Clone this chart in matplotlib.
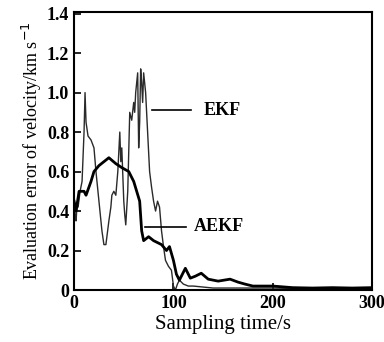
import numpy as np
import matplotlib.pyplot as plt

plt.rcParams['font.family'] = ['Liberation Serif', 'DejaVu Serif']

# EKF curve (thin, spiky)
t_ekf = [0, 1, 2, 3, 4, 6, 8, 10, 11, 12, 14, 17, 20, 22, 25, 28, 30, 32, 35, 37,
         38, 40, 42, 44, 46, 47, 48, 50, 51, 52, 54, 55, 56, 58, 60, 61, 62, 64, 65,
         66, 67, 68, 69, 70, 72, 74, 76, 78, 80, 82, 84, 86, 88, 90, 92, 95, 98,
         100, 102, 104, 106, 110, 115, 120, 130, 140, 160, 180, 200, 220, 240,
         260, 280, 300]
v_ekf = [0.45, 0.38, 0.35, 0.44, 0.42, 0.5, 0.55, 0.8, 1.0, 0.85, 0.78, 0.76, 0.72,
         0.6, 0.45, 0.3, 0.23, 0.23, 0.35, 0.42, 0.48, 0.5, 0.48, 0.6, 0.8, 0.65,
         0.72, 0.45, 0.38, 0.33, 0.5, 0.7, 0.9, 0.86, 0.95, 0.9, 1.0, 1.1, 0.72,
         0.85, 1.12, 1.05, 0.95, 1.1, 1.0, 0.8, 0.6, 0.52, 0.45, 0.4, 0.45, 0.42,
         0.3, 0.22, 0.15, 0.12, 0.1, 0.02, 0.0, 0.03, 0.05, 0.03, 0.02, 0.02,
         0.015, 0.01, 0.01, 0.01, 0.01, 0.008, 0.01, 0.008, 0.01, 0.01]

# AEKF curve (thick, smoother)
t_aekf = [0, 2, 5, 10, 12, 17, 20, 25, 30, 35, 42, 48, 55, 60, 63, 66, 68, 70, 75,
          80, 88, 93, 96, 100, 103, 106, 110, 112, 117, 122, 128, 135, 145, 157,
          165, 172, 180, 190, 200, 220, 240, 260, 280, 300]
v_aekf = [0.45, 0.4, 0.5, 0.5, 0.48, 0.55, 0.6, 0.63, 0.65, 0.67, 0.64, 0.62, 0.6,
          0.55, 0.5, 0.45, 0.3, 0.25, 0.27, 0.25, 0.23, 0.2, 0.22, 0.15, 0.08, 0.05,
          0.09, 0.11, 0.06, 0.07, 0.085, 0.055, 0.045, 0.055, 0.04, 0.03, 0.02,
          0.02, 0.02, 0.012, 0.01, 0.012, 0.01, 0.012]

fig = plt.figure(figsize=(3.84, 3.42), dpi=100)
ax = fig.add_axes([0.193, 0.152, 0.776, 0.814])

ax.plot(t_ekf, v_ekf, color='#2a2a2a', lw=1.0)
ax.plot(t_aekf, v_aekf, color='black', lw=2.0)

# label leaders
ax.plot([78, 118], [0.91, 0.91], color='black', lw=1.2)
ax.text(130, 0.91, 'EKF', fontsize=13, fontweight='bold', va='center')
ax.plot([71, 113], [0.32, 0.32], color='black', lw=1.2)
ax.text(121, 0.32, 'AEKF', fontsize=13, fontweight='bold', va='center')

ax.set_xlim(0, 300)
ax.set_ylim(0, 1.41)
ax.set_xticks([0, 100, 200, 300])
ax.set_yticks([0, 0.2, 0.4, 0.6, 0.8, 1.0, 1.2, 1.4])
ax.set_yticklabels(['0', '0.2', '0.4', '0.6', '0.8', '1.0', '1.2', '1.4'])
ax.tick_params(direction='in', labelsize=13, width=1.2, length=5)
for lab in ax.get_xticklabels() + ax.get_yticklabels():
    lab.set_fontweight('bold')
for s in ax.spines.values():
    s.set_linewidth(1.5)

ax.set_xlabel('Sampling time/s', fontsize=15, labelpad=2)
ax.set_ylabel('Evaluation error of velocity/km s$^{-1}$', fontsize=13, labelpad=2)

plt.savefig('out.png', dpi=100)
